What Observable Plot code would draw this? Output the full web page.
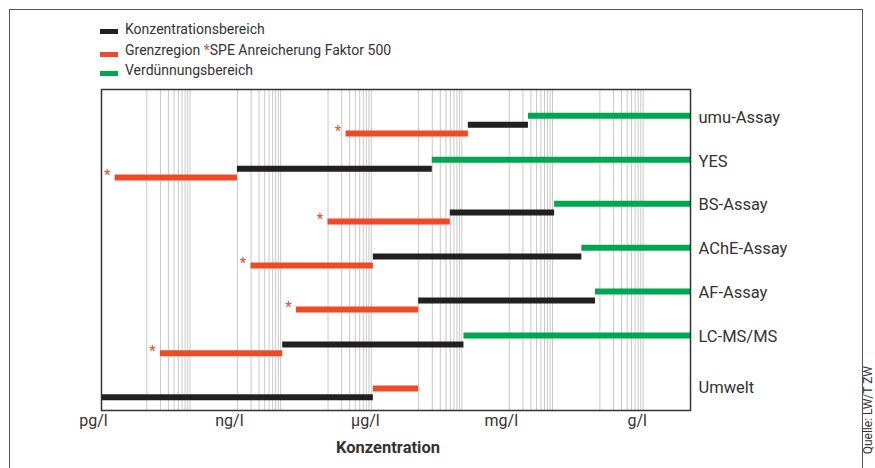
<!DOCTYPE html>
<html><head><meta charset="utf-8">
<script src="https://cdn.jsdelivr.net/npm/d3@7"></script>
<script src="https://cdn.jsdelivr.net/npm/@observablehq/plot@0.6"></script>
<style>
body{margin:0;background:#fff;}
#wrap{position:relative;width:875px;height:468px;overflow:hidden;font-family:Roboto,'Liberation Sans',sans-serif;color:#333;}
#border{position:absolute;left:8.5px;top:8.5px;width:854px;height:520px;border:1.5px solid #555;box-sizing:border-box;}
.sw{position:absolute;left:100px;width:18px;height:5px;}
.lt{position:absolute;left:125px;font-size:14px;line-height:18px;white-space:nowrap;}
#chart{position:absolute;left:0;top:0;}
</style></head>
<body>
<div id="wrap">
  <div id="border"></div>
  <div id="legend"></div>
  <div id="chart"></div>
</div>
<script>
// Categories (top to bottom)
const rows = ["umu-Assay", "YES", "BS-Assay", "AChE-Assay", "AF-Assay", "LC-MS/MS", "Umwelt"];
// Ranges in g/l
const redStart   = [2.5e-7, 2e-12, 1e-7, 2e-9, 2e-8, 2e-11, 1e-6];
const redEnd     = [1.25e-4, 1e-9, 5e-5, 1e-6, 1e-5, 1e-8, 1e-5];
const blackStart = [1.25e-4, 1e-9, 5e-5, 1e-6, 1e-5, 1e-8, 1e-12];
const blackEnd   = [2.65e-3, 2e-5, 1e-2, 4e-2, 8e-2, 1e-4, 1e-6];
const greenStart = [2.65e-3, 2e-5, 1e-2, 4e-2, 8e-2, 1e-4, null];
const greenEnd   = [10, 10, 10, 10, 10, 10, null];
// stacking order within each row (0 = top)
const greenLane = [0, 0, 0, 0, 0, 0, 0];
const blackLane = [1, 1, 1, 1, 1, 1, 2];
const redLane   = [2, 2, 2, 2, 2, 2, 1];
const speMark   = [true, true, true, true, true, true, false];
// Series
const kinds = ["Konzentrationsbereich", "Grenzregion", "Verdünnungsbereich"];
const kindColors = ["#231f20", "#ee4a26", "#00a651"];
// Axis
const tickValues = [1e-12, 1e-9, 1e-6, 1e-3, 1];
const tickLabels = ["pg/l", "ng/l", "µg/l", "mg/l", "g/l"];
const gridExponents = [-11, -9, -7, -5, -3, -1];
const gridMultiples = [1, 2, 3, 4, 5, 6, 7, 8, 9];
const xLabel = "Konzentration";
const source = "Quelle: LW/T ZW";

const segs = [];
rows.forEach((r, i) => {
  if (greenStart[i] != null) segs.push({row: r, kind: kinds[2], lane: greenLane[i], x1: greenStart[i], x2: greenEnd[i]});
  segs.push({row: r, kind: kinds[0], lane: blackLane[i], x1: blackStart[i], x2: blackEnd[i]});
  segs.push({row: r, kind: kinds[1], lane: redLane[i], x1: redStart[i], x2: redEnd[i], spe: speMark[i]});
});
const gridVals = gridExponents.flatMap(e => gridMultiples.map(m => m * Math.pow(10, e)));
const laneStep = 8.9;

// Legend
const legend = document.getElementById("legend");
const legendTops = [19.8, 40.8, 60.8];
const swTops = [28.7, 52, 70.7];
kinds.forEach((k, i) => {
  const sw = document.createElement("div");
  sw.className = "sw"; sw.style.top = swTops[i] + "px"; sw.style.background = kindColors[i];
  legend.appendChild(sw);
  const t = document.createElement("div");
  t.className = "lt"; t.style.top = legendTops[i] + "px";
  if (i === 1) t.innerHTML = 'Grenzregion <span style="color:#ee4a26">*</span>SPE Anreicherung Faktor 500';
  else t.textContent = k;
  legend.appendChild(t);
});

const plot = Plot.plot({
  width: 875, height: 468,
  marginLeft: 101, marginRight: 185, marginTop: 89, marginBottom: 58,
  x: {type: "log", domain: [1e-12, 10], axis: null},
  y: {type: "point", domain: rows, range: [115.3, 379], padding: 0, round: false, axis: null},
  color: {domain: kinds, range: kindColors},
  style: {fontFamily: "Roboto,'Liberation Sans',sans-serif", color: "#333", background: "transparent"},
  marks: [
    Plot.ruleX(gridVals, {stroke: "#c9c9c9", strokeWidth: 1}),
    ...[0, 1, 2].map(l => Plot.ruleY(segs.filter(d => d.lane === l), {
      x1: "x1", x2: "x2", y: "row", dy: l * laneStep, stroke: "kind", strokeWidth: 6
    })),
    Plot.frame({stroke: "#333", strokeWidth: 1.5}),
    Plot.text(segs.filter(d => d.spe), {
      x: "x1", y: "row", text: () => "*", dy: 2 * laneStep - 2, dx: -8, fill: kindColors[1], fontSize: 15
    }),
    Plot.text(rows.slice(0, 6), {y: d => d, text: d => d, frameAnchor: "right", textAnchor: "start", dx: 8, dy: 1.5, fontSize: 16.5}),
    Plot.text(rows.slice(6), {y: d => d, text: d => d, frameAnchor: "right", textAnchor: "start", dx: 8, dy: 8, fontSize: 16.5}),
    Plot.text(tickValues, {x: d => d, text: (d, i) => tickLabels[i], frameAnchor: "bottom", dy: 15, dx: -8, fontSize: 16}),
    Plot.text([xLabel], {frameAnchor: "bottom", dy: 42, dx: -8, fontSize: 16.5, fontWeight: "bold"})
  ]
});
d3.select(plot).append("text")
  .attr("transform", "translate(872,366) rotate(-90)")
  .attr("text-anchor", "end")
  .attr("font-size", 12)
  .attr("fill", "#333")
  .text(source);
document.getElementById("chart").appendChild(plot);
</script>
</body></html>
